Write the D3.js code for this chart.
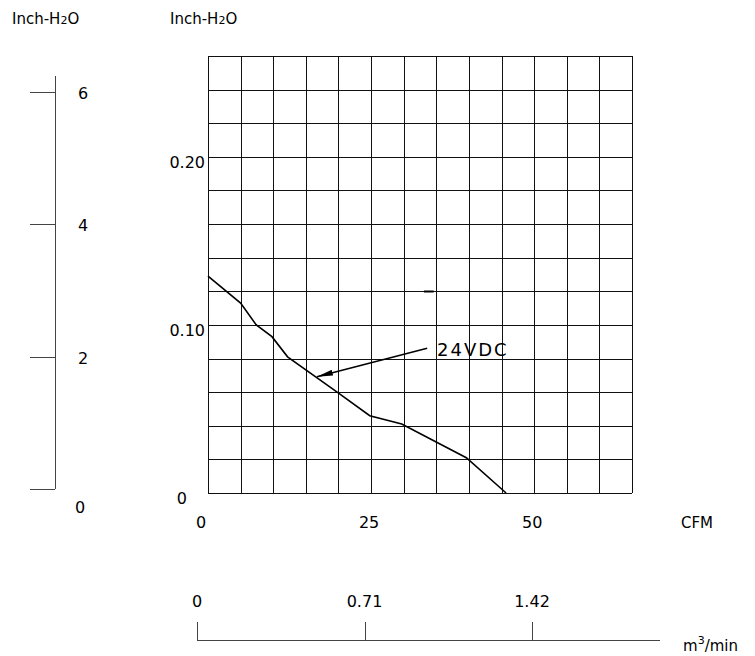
<!DOCTYPE html>
<html>
<head>
<meta charset="utf-8">
<script src="https://cdn.jsdelivr.net/npm/d3@7"></script>
<style>
  body { margin: 0; background: #fff; }
  text { font-family: "DejaVu Sans", sans-serif; fill: #000; }
</style>
</head>
<body>
<div id="chart"></div>
<script>
// fan curve, 24VDC
var cfm = [0, 5, 7.4, 9.8, 12.2, 19.8, 24.8, 29.7, 39.6, 45.7];
var pressure = [0.129, 0.113, 0.100, 0.093, 0.081, 0.060, 0.046, 0.041, 0.021, 0];

var xTickLabels = [0, 25, 50];
var yTickLabels = [0, 0.10, 0.20];
var leftTicks = [0, 2, 4, 6];
var m3Ticks = [0, 0.71, 1.42];

var width = 755, height = 656;

var svg = d3.select("#chart").append("svg")
    .attr("width", width)
    .attr("height", height);

var x = d3.scaleLinear().domain([0, 65]).range([208, 632]);
var y = d3.scaleLinear().domain([0, 0.26]).range([493, 56]);
var yLeft = d3.scaleLinear().domain([0, 6]).range([489, 92]);
var xM3 = d3.scaleLinear().domain([0, 1.42]).range([197, 532]);

// grid
var grid = svg.append("g")
    .attr("stroke", "#111")
    .attr("stroke-width", 1)
    .attr("shape-rendering", "crispEdges");

grid.selectAll(".vline")
    .data(x.ticks(13))
    .enter().append("line")
    .attr("x1", function(d) { return Math.round(x(d)) + 0.5; })
    .attr("x2", function(d) { return Math.round(x(d)) + 0.5; })
    .attr("y1", y(0))
    .attr("y2", y(0.26));

grid.selectAll(".hline")
    .data(y.ticks(13))
    .enter().append("line")
    .attr("x1", x(0))
    .attr("x2", x(65))
    .attr("y1", function(d) { return Math.round(y(d)) + 0.5; })
    .attr("y2", function(d) { return Math.round(y(d)) + 0.5; });

// little dark dash on the 0.12 line
svg.append("line")
    .attr("x1", x(33.1)).attr("x2", x(34.6))
    .attr("y1", Math.round(y(0.12)) + 0.5).attr("y2", Math.round(y(0.12)) + 0.5)
    .attr("stroke", "#000").attr("stroke-width", 2);

// curve
var line = d3.line()
    .x(function(d) { return x(d[0]); })
    .y(function(d) { return y(d[1]); });

svg.append("path")
    .datum(d3.zip(cfm, pressure))
    .attr("d", line)
    .attr("fill", "none")
    .attr("stroke", "#000")
    .attr("stroke-width", 1.6);

// arrow to curve
svg.append("defs").append("marker")
    .attr("id", "head")
    .attr("viewBox", "0 0 16 6")
    .attr("refX", 16).attr("refY", 3)
    .attr("markerWidth", 16).attr("markerHeight", 6)
    .attr("markerUnits", "userSpaceOnUse")
    .attr("orient", "auto")
    .append("path")
    .attr("d", "M0,0 L16,3 L0,6 Z")
    .attr("fill", "#000");

svg.append("line")
    .attr("x1", x(33.6)).attr("y1", y(0.0861))
    .attr("x2", x(16.7)).attr("y2", y(0.0692))
    .attr("stroke", "#000")
    .attr("stroke-width", 1.5)
    .attr("marker-end", "url(#head)");

svg.append("text")
    .attr("x", 437)
    .attr("y", 356)
    .attr("font-size", 18)
    .attr("letter-spacing", 2)
    .text("24VDC");

// axis labels on grid
svg.selectAll(".ylab")
    .data(yTickLabels)
    .enter().append("text")
    .attr("x", function(d) { return d === 0 ? 187 : 205; })
    .attr("y", function(d) { return y(d) + 11; })
    .attr("text-anchor", "end")
    .attr("font-size", 16)
    .text(function(d) { return d === 0 ? "0" : d3.format(".2f")(d); });

svg.selectAll(".xlab")
    .data(xTickLabels)
    .enter().append("text")
    .attr("x", function(d) { return d === 0 ? x(d) - 7 : x(d) - 2; })
    .attr("y", 528)
    .attr("text-anchor", "middle")
    .attr("font-size", 16)
    .text(function(d) { return d; });

svg.append("text")
    .attr("x", 681).attr("y", 528)
    .attr("font-size", 15)
    .text("CFM");

// unit titles
function unitTitle(px) {
    var t = svg.append("text")
        .attr("x", px).attr("y", 24)
        .attr("font-size", 15);
    t.append("tspan").text("Inch-H");
    t.append("tspan").attr("font-size", 11).text("2");
    t.append("tspan").text("O");
}
unitTitle(12);
unitTitle(170);

// left secondary axis
var left = svg.append("g")
    .attr("stroke", "#444")
    .attr("stroke-width", 1)
    .attr("shape-rendering", "crispEdges");
left.append("line")
    .attr("x1", 55.5).attr("x2", 55.5)
    .attr("y1", yLeft(0)).attr("y2", yLeft(6.24));
left.selectAll(".lt")
    .data(leftTicks)
    .enter().append("line")
    .attr("x1", 30).attr("x2", 55)
    .attr("y1", function(d) { return Math.round(yLeft(d)) + 0.5; })
    .attr("y2", function(d) { return Math.round(yLeft(d)) + 0.5; });

svg.selectAll(".llab")
    .data(leftTicks)
    .enter().append("text")
    .attr("x", function(d) { return d === 0 ? 80 : 83; })
    .attr("y", function(d) { return d === 0 ? yLeft(d) + 24 : yLeft(d) + 7; })
    .attr("text-anchor", "middle")
    .attr("font-size", 16)
    .text(function(d) { return d; });

// bottom m3/min axis
var bottom = svg.append("g")
    .attr("stroke", "#444")
    .attr("stroke-width", 1)
    .attr("shape-rendering", "crispEdges");
bottom.append("line")
    .attr("x1", xM3(0)).attr("x2", 660)
    .attr("y1", 640.5).attr("y2", 640.5);
bottom.selectAll(".bt")
    .data(m3Ticks)
    .enter().append("line")
    .attr("x1", function(d) { return Math.round(xM3(d)) + 0.5; })
    .attr("x2", function(d) { return Math.round(xM3(d)) + 0.5; })
    .attr("y1", 622).attr("y2", 640);

svg.selectAll(".blab")
    .data(m3Ticks)
    .enter().append("text")
    .attr("x", function(d) { return xM3(d); })
    .attr("y", 607)
    .attr("text-anchor", "middle")
    .attr("font-size", 16)
    .text(function(d) { return d; });

var unit = svg.append("text")
    .attr("x", 683).attr("y", 651)
    .attr("font-size", 15);
unit.append("tspan").text("m");
unit.append("tspan").attr("font-size", 11).attr("dy", -7).text("3");
unit.append("tspan").attr("dy", 7).text("/min");
</script>
</body>
</html>
